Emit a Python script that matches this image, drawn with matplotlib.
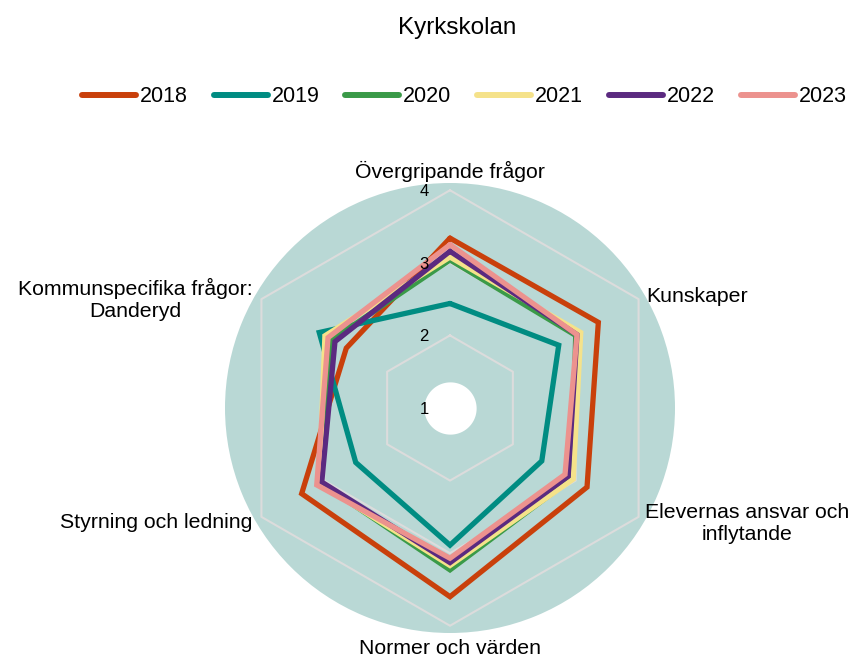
import numpy as np
import matplotlib
matplotlib.use("Agg")
import matplotlib.pyplot as plt

plt.rcParams['font.family'] = ['Liberation Sans', 'DejaVu Sans']

title = "Kyrkskolan"
categories = ["Övergripande frågor", "Kunskaper", "Elevernas ansvar och\ninflytande",
              "Normer och värden", "Styrning och ledning", "Kommunspecifika frågor:\nDanderyd"]
years = ["2018", "2019", "2020", "2021", "2022", "2023"]
v2018 = [3.34, 3.36, 3.18, 3.60, 3.36, 2.65]
v2019 = [2.44, 2.73, 2.46, 2.89, 2.50, 3.08]
v2020 = [3.04, 3.00, 2.94, 3.23, 3.06, 2.88]
v2021 = [3.08, 3.08, 2.96, 3.17, 3.08, 2.99]
v2022 = [3.16, 3.02, 2.88, 3.13, 3.04, 2.83]
v2023 = [3.25, 3.02, 2.83, 3.07, 3.12, 2.94]
series = [v2018, v2019, v2020, v2021, v2022, v2023]
colors = ["#c9400b", "#008c82", "#3a9a48", "#f5e28a", "#5b2a80", "#ec928e"]
ticks = [1, 2, 3, 4]

W, H = 853, 658
fig = plt.figure(figsize=(W / 100, H / 100), dpi=100)
cx, cy, R = 450, 408, 225
ax = fig.add_axes([(cx - R) / W, (H - cy - R) / H, 2 * R / W, 2 * R / H], projection='polar')
ax.set_theta_offset(np.pi / 2)
ax.set_theta_direction(-1)
ax.set_ylim(1, 4.1)
ax.set_facecolor("#b9d8d5")
ax.spines['polar'].set_visible(False)
ax.grid(False)
ax.set_xticks([])
ax.set_yticks([])

n = len(categories)
angles = np.arange(n) * 2 * np.pi / n
ang_closed = np.append(angles, angles[0])

# hexagonal grid
for t in ticks[1:]:
    ax.plot(ang_closed, [t] * (n + 1), color="#dcdcdc", lw=1.5, zorder=1)

# white center hole
th = np.linspace(0, 2 * np.pi, 200)
ax.fill_between(th, 1, 1.36, color="white", zorder=2, lw=0)

for vals, c, y in zip(series, colors, years):
    ax.plot(ang_closed, vals + [vals[0]], color=c, lw=3.8, label=y, zorder=3,
            solid_joinstyle='miter', solid_capstyle='round')

for t in ticks:
    ax.annotate(str(t), xy=(0, t), xytext=(-26, -1.5), textcoords='offset pixels',
                ha='center', va='center', fontsize=12, color="#000000", zorder=5)

# category labels (pixel positions)
lab_pos = [(450, 171, 'center'), (646, 297, 'left'), (747.5, 523, 'center'),
           (450, 648, 'center'), (252, 523, 'right'), (135.5, 299, 'center')]
for lab, (px, py, ha) in zip(categories, lab_pos):
    fig.text(px / W, 1 - py / H, lab, ha=ha, va='center', fontsize=15.3,
             color="#000000", linespacing=1.2, multialignment='center')

fig.text(457 / W, 1 - 28 / H, title, ha='center', va='center', fontsize=17.5)

leg = fig.legend(loc='center', bbox_to_anchor=(464.5 / W, 1 - 97 / H), ncol=6,
                 frameon=False, fontsize=15.5, handlelength=2.5, handletextpad=0.19,
                 columnspacing=1.2, borderaxespad=0)
for line in leg.get_lines():
    line.set_linewidth(4.3)
    line.set_solid_capstyle('round')

fig.savefig("out.png", dpi=100)
